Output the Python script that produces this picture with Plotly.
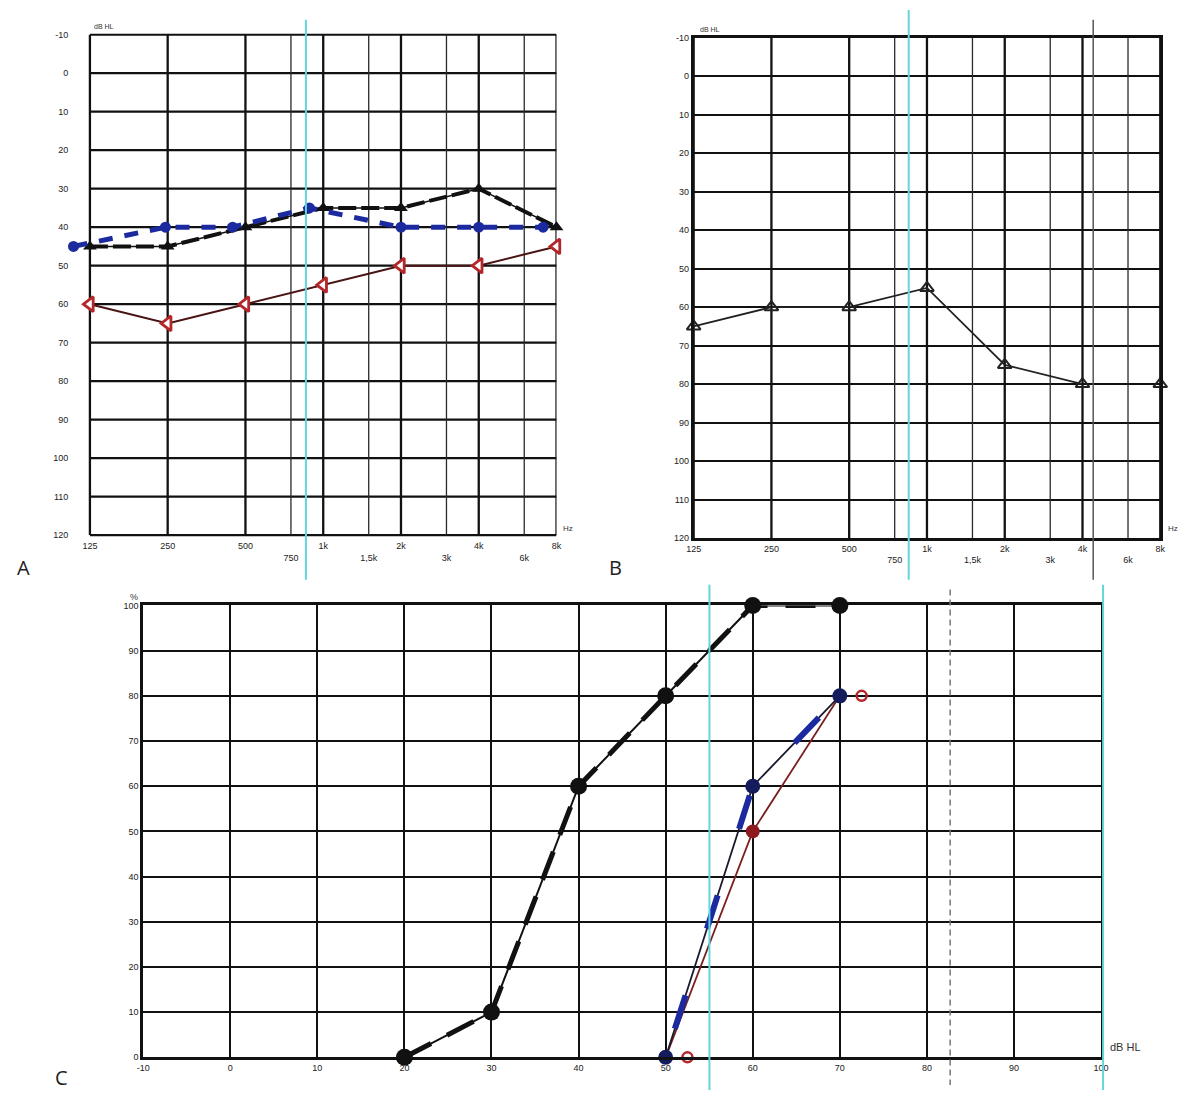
import math
import plotly.graph_objects as go

W, H = 1189, 1095

# ---------------- data ----------------
freqs = [125, 250, 500, 1000, 2000, 4000, 8000]
freq_labels = ["125", "250", "500", "1k", "2k", "4k", "8k"]
mid_freqs = [750, 1500, 3000, 6000]
mid_labels_a = ["750", "1,5k", "3k", "6k"]
mid_labels_b = ["750", "1,5k", "3k", "6k"]
db_ticks = list(range(-10, 121, 10))

# Panel A
a_blue_freq = [108, 245, 446, 884, 2000, 4000, 7100]
a_blue_db = [45, 40, 40, 35, 40, 40, 40]
a_black_db = [45, 45, 40, 35, 35, 30, 40]
a_red_db = [60, 65, 60, 55, 50, 50, 45]

# Panel B
b_line_freq = [125, 250, 500, 1000, 2000, 4000]
b_line_db = [65, 60, 60, 55, 75, 80]
b_single_freq = [8000]
b_single_db = [80]

# Panel C
c_ticks_x = list(range(-10, 101, 10))
c_ticks_y = list(range(0, 101, 10))
c_black_x = [20, 30, 40, 50, 60, 70]
c_black_y = [0, 10, 60, 80, 100, 100]
c_blue_x = [50, 60, 70]
c_blue_y = [0, 60, 80]
c_red_x = [50, 60, 70]
c_red_y = [0, 50, 80]
c_red_open_x = [52.5, 72.5]
c_red_open_y = [0, 80]


def px(x):
    return x / W


def py(y):
    return 1 - y / H


BLACK = "#111111"
BLUE = "#1b2a9e"
NAVY = "#141c5e"
RED = "#b3262a"
CYAN = "#63d6dc"
TICKFONT = dict(family="Liberation Sans, Arial", size=9, color="#222222")

fig = go.Figure()


def vgrid(freq_list, xa, ya, color, width):
    xs, ys = [], []
    for f in freq_list:
        xs += [f, f, None]
        ys += [db_ticks[0], db_ticks[-1], None]
    fig.add_trace(go.Scatter(x=xs, y=ys, mode="lines", xaxis=xa, yaxis=ya,
                             line=dict(color=color, width=width), hoverinfo="skip"))


def hgrid(xa, ya, color, width):
    xs, ys = [], []
    for d in db_ticks:
        xs += [freqs[0], freqs[-1], None]
        ys += [d, d, None]
    fig.add_trace(go.Scatter(x=xs, y=ys, mode="lines", xaxis=xa, yaxis=ya,
                             line=dict(color=color, width=width), hoverinfo="skip"))


# grid lines (A drawn as traces so the plotted area can start a little left of 125 Hz)
hgrid("x", "y", BLACK, 2.2)
for xa, ya in (("x", "y"), ("x2", "y2")):
    vgrid(mid_freqs, xa, ya, "#2a2a2a", 1.3)
    vgrid(freqs, xa, ya, BLACK, 2.3)

# ---- Panel A traces ----
fig.add_trace(go.Scatter(x=freqs, y=a_red_db, mode="lines", xaxis="x", yaxis="y",
                         line=dict(color="#4a1414", width=2), hoverinfo="skip"))
fig.add_trace(go.Scatter(x=freqs, y=a_red_db, mode="markers", xaxis="x", yaxis="y",
                         marker=dict(symbol="triangle-left", size=13, color="white",
                                     line=dict(color=RED, width=2.8)), cliponaxis=False))
fig.add_trace(go.Scatter(x=freqs, y=a_black_db, mode="lines", xaxis="x", yaxis="y",
                         line=dict(color=BLACK, width=1.5), hoverinfo="skip"))
fig.add_trace(go.Scatter(x=freqs, y=a_black_db, mode="lines+markers", xaxis="x", yaxis="y",
                         line=dict(color=BLACK, width=4, dash="18px,5px"),
                         marker=dict(symbol="triangle-up", size=12, color=BLACK),
                         cliponaxis=False))
fig.add_trace(go.Scatter(x=a_blue_freq, y=a_blue_db, mode="lines+markers", xaxis="x", yaxis="y",
                         line=dict(color=BLUE, width=5, dash="14px,12px"),
                         marker=dict(symbol="circle", size=11, color=BLUE),
                         cliponaxis=False))

# ---- Panel B traces ----
fig.add_trace(go.Scatter(x=b_line_freq, y=b_line_db, mode="lines+markers", xaxis="x2", yaxis="y2",
                         line=dict(color="#222222", width=1.8),
                         marker=dict(symbol="triangle-up-open", size=12, color="#222222",
                                     line=dict(color="#222222", width=2)),
                         cliponaxis=False))
fig.add_trace(go.Scatter(x=b_single_freq, y=b_single_db, mode="markers", xaxis="x2", yaxis="y2",
                         marker=dict(symbol="triangle-up-open", size=12, color="#222222",
                                     line=dict(color="#222222", width=2)),
                         cliponaxis=False))

# ---- Panel C traces ----
fig.add_trace(go.Scatter(x=c_red_x, y=c_red_y, mode="lines", xaxis="x3", yaxis="y3",
                         line=dict(color="#7a2020", width=1.8), hoverinfo="skip"))
fig.add_trace(go.Scatter(x=c_blue_x, y=c_blue_y, mode="lines", xaxis="x3", yaxis="y3",
                         line=dict(color="#1a1a2e", width=1.8), hoverinfo="skip"))
fig.add_trace(go.Scatter(x=c_blue_x, y=c_blue_y, mode="lines", xaxis="x3", yaxis="y3",
                         line=dict(color=BLUE, width=6, dash="0px,30px,35px,40px"),
                         hoverinfo="skip"))
fig.add_trace(go.Scatter(x=c_black_x, y=c_black_y, mode="lines", xaxis="x3", yaxis="y3",
                         line=dict(color=BLACK, width=2), hoverinfo="skip"))
fig.add_trace(go.Scatter(x=c_black_x, y=c_black_y, mode="lines+markers", xaxis="x3", yaxis="y3",
                         line=dict(color=BLACK, width=5, dash="30px,18px"),
                         marker=dict(symbol="circle", size=17, color=BLACK),
                         cliponaxis=False))
fig.add_trace(go.Scatter(x=c_blue_x, y=c_blue_y, mode="markers", xaxis="x3", yaxis="y3",
                         marker=dict(symbol="circle", size=15, color=NAVY),
                         cliponaxis=False))
fig.add_trace(go.Scatter(x=[c_red_x[1]], y=[c_red_y[1]], mode="markers", xaxis="x3", yaxis="y3",
                         marker=dict(symbol="circle", size=14, color="#8c1a1e"),
                         cliponaxis=False))
fig.add_trace(go.Scatter(x=c_red_open_x, y=c_red_open_y, mode="markers", xaxis="x3", yaxis="y3",
                         marker=dict(symbol="circle-open", size=10, color=RED,
                                     line=dict(color=RED, width=2.5)),
                         cliponaxis=False))

# ---------------- axes ----------------
axis_common = dict(showline=True, mirror=True, linecolor=BLACK, linewidth=2.5,
                   zeroline=False, ticks="", tickfont=TICKFONT)
axis_bare = dict(showline=False, showgrid=False, zeroline=False, ticks="", tickfont=TICKFONT)

OCT_PX = 78.7  # pixels per octave in panel A
a_low = 104
a_left = 83 - OCT_PX * math.log2(125 / a_low)
DB_PX = 505 / 130  # pixels per dB in panel A

tick_vals_f = freqs + mid_freqs
fig.update_layout(
    xaxis=dict(domain=[px(a_left), px(556)], anchor="y", type="log",
               range=[math.log10(a_low), math.log10(8000)],
               tickvals=tick_vals_f,
               ticktext=freq_labels + ["<br>" + t for t in mid_labels_a],
               **axis_bare),
    yaxis=dict(domain=[py(535 + DB_PX), py(30 - DB_PX)], anchor="x", range=[121, -11],
               tickvals=db_ticks, ticktext=[str(v) for v in db_ticks],
               **axis_bare),
    xaxis2=dict(domain=[px(695), px(1168)], anchor="y2", type="log",
                range=[math.log10(125), math.log10(8000)],
                tickvals=tick_vals_f,
                ticktext=freq_labels + ["<br>" + t for t in mid_labels_b],
                showgrid=False, **axis_common),
    yaxis2=dict(domain=[py(538), py(33)], anchor="x2", range=[120, -10],
                tickvals=db_ticks, ticktext=[str(v) for v in db_ticks],
                showgrid=True, gridcolor=BLACK, gridwidth=2.4,
                **axis_common),
    xaxis3=dict(domain=[px(137), px(1108)], anchor="y3", range=[-10, 100],
                tickvals=c_ticks_x, ticktext=[str(v) for v in c_ticks_x],
                showgrid=True, gridcolor=BLACK, gridwidth=2.2,
                **axis_common),
    yaxis3=dict(domain=[py(1062), py(606)], anchor="x3", range=[0, 100],
                tickvals=c_ticks_y, showgrid=True, gridcolor=BLACK, gridwidth=2.2,
                **axis_common),
)

shapes = []
# scan artefacts: cyan fold lines and marks
for x0, y0, y1 in ((302, 15, 580), (913, 5, 580), (711, 585, 1095), (1110, 585, 1095)):
    shapes.append(dict(type="line", xref="paper", yref="paper",
                       x0=px(x0), x1=px(x0), y0=py(y0), y1=py(y1),
                       line=dict(color=CYAN, width=2), layer="above"))
shapes.append(dict(type="line", xref="paper", yref="paper",
                   x0=px(1100), x1=px(1100), y0=py(15), y1=py(580),
                   line=dict(color="#555555", width=1.5), layer="above"))
shapes.append(dict(type="line", xref="paper", yref="paper",
                   x0=px(955), x1=px(955), y0=py(590), y1=py(1090),
                   line=dict(color="#777777", width=1.5, dash="6px,4px"), layer="above"))

annotations = []


def add_text(x, y, text, size=8, xanchor="center", family="Liberation Sans, Arial", color="#333333"):
    annotations.append(dict(x=px(x), y=py(y), xref="paper", yref="paper", text=text,
                            showarrow=False, xanchor=xanchor, yanchor="middle",
                            font=dict(size=size, family=family, color=color)))


add_text(85, 22, "dB HL", size=7, xanchor="left")
add_text(699, 25, "dB HL", size=7, xanchor="left")
add_text(568, 528, "Hz", size=8)
add_text(1181, 528, "Hz", size=8)
add_text(128, 597, "%", size=9)
add_text(1115, 1052, "dB HL", size=11, xanchor="left")
add_text(16, 568, "A", size=20, family="Open Sans, Noto Sans", color="#222222")
add_text(616, 568, "B", size=20, family="Open Sans, Noto Sans", color="#222222")
add_text(54, 1082, "C", size=20, family="Open Sans, Noto Sans", color="#222222")

fig.update_layout(
    width=W, height=H, margin=dict(l=0, r=0, t=0, b=0),
    paper_bgcolor="white", plot_bgcolor="white",
    showlegend=False, shapes=shapes, annotations=annotations,
)

fig.write_html("out.html")
